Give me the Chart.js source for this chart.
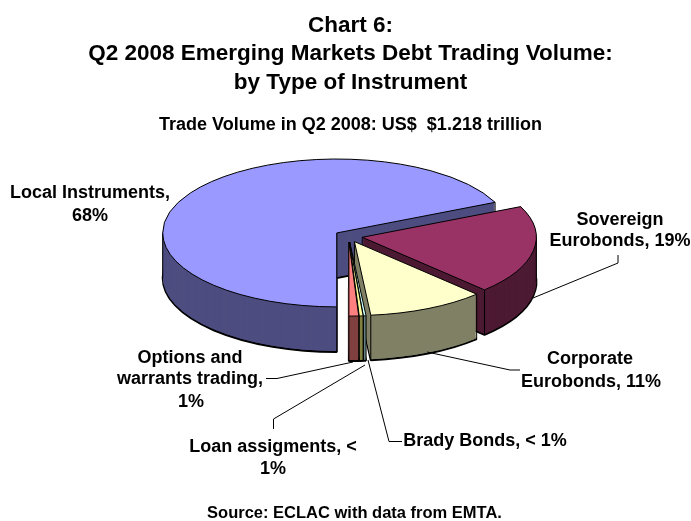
<!DOCTYPE html>
<html><head><meta charset="utf-8">
<style>html,body{margin:0;padding:0;background:#fff}canvas{display:block}</style>
<script src="https://cdn.jsdelivr.net/npm/chart.js@4"></script>
</head><body><canvas id="c" width="691" height="521"></canvas>
<script>
const categories = ["Local Instruments","Sovereign Eurobonds","Corporate Eurobonds","Brady Bonds","Loan assigments","Options and warrants trading"];
const shares = [68.2,19.4,10.9,0.25,0.35,0.9];
const topColors = ["#9999FF","#993366","#FFFFCC","#CCFFFF","#FFFF99","#FF8080"];
const sideColors = ["#4D4D80","#4D1A33","#808066","#668080","#808040","#804040"];
const titleLines = ["Chart 6:","Q2 2008 Emerging Markets Debt Trading Volume:","by Type of Instrument"];
const subtitleText = "Trade Volume in Q2 2008: US$  $1.218 trillion";
const sourceText = "Source: ECLAC with data from EMTA.";
const FONT = '"Liberation Sans", Arial, sans-serif';
const TILT = 0.425, DEPTH = 45, EXPLODE = 14, RADIUS = 174, SHIFT_X = -2;

const labels = [
  {t:"Local Instruments,",x:90,y:193.5},{t:"68%",x:90,y:216.5},
  {t:"Sovereign",x:620,y:220},{t:"Eurobonds, 19%",x:620,y:241},
  {t:"Corporate",x:590,y:359},{t:"Eurobonds, 11%",x:591,y:382},
  {t:"Options and",x:190,y:358},{t:"warrants trading,",x:190,y:379},{t:"1%",x:191,y:402},
  {t:"Loan assigments, <",x:273,y:447},{t:"1%",x:273,y:469},
  {t:"Brady Bonds, < 1%",x:485,y:441}
];
const leaders = [
  [[618,255],[618,263],[533,298]],
  [[520,370],[510,370],[427,352]],
  [[266,378.5],[277,378.5],[353,362]],
  [[273.5,429],[273.5,419],[365,365]],
  [[402,441.5],[389,441.5],[368,360]]
];

function uniformStroke(ctx,w,fn){
  const orig = ctx.stroke;
  ctx.stroke = function(){ctx.save();ctx.setTransform(1,0,0,1,0,0);ctx.lineWidth=w;orig.call(ctx);ctx.restore();};
  fn();
  delete ctx.stroke;
}
const pie3d = {
  id:'pie3d',
  beforeDatasetsDraw(chart){
    const ctx = chart.ctx, meta = chart.getDatasetMeta(0);
    const drawFlat = (el,d,fill,border)=>{
      const mid=(el.startAngle+el.endAngle)/2;
      const o=Object.create(el);
      o.options=Object.assign({},el.options,{backgroundColor:fill,borderColor:'#000',borderWidth:border?1:0});
      ctx.save();
      ctx.translate(SHIFT_X,el.y+d);ctx.scale(1,TILT);ctx.translate(0,-el.y);
      ctx.translate(Math.cos(mid)*EXPLODE,Math.sin(mid)*EXPLODE);
      o.draw(ctx);
      ctx.restore();
    };
    meta.data.forEach((el,i)=>{
      const mid=(el.startAngle+el.endAngle)/2;
      const cx=el.x+SHIFT_X+Math.cos(mid)*EXPLODE, cy=el.y+Math.sin(mid)*EXPLODE*TILT;
      uniformStroke(ctx,2,()=>drawFlat(el,DEPTH,sideColors[i],true));
      for(let d=DEPTH-1;d>0;d--) drawFlat(el,d,sideColors[i],false);
      const r=el.outerRadius, angs=[el.startAngle,el.endAngle];
      for(let n=-4;n<5;n++){const b=n*Math.PI; if(b>el.startAngle&&b<el.endAngle)angs.push(b);}
      ctx.save();ctx.strokeStyle='#000';ctx.lineWidth=1;ctx.beginPath();
      ctx.moveTo(cx,cy);ctx.lineTo(cx,cy+DEPTH);
      for(const a of angs){const x=cx+Math.cos(a)*r,y=cy+Math.sin(a)*r*TILT;ctx.moveTo(x,y);ctx.lineTo(x,y+DEPTH);}
      ctx.stroke();ctx.restore();
    });
    meta.data.forEach((el,i)=>{
      uniformStroke(ctx,1,()=>drawFlat(el,0,topColors[i],true));
    });
    return false;
  },
  afterDraw(chart){
    const ctx=chart.ctx;
    ctx.save();
    ctx.strokeStyle='#000';ctx.lineWidth=1;
    for(const l of leaders){ctx.beginPath();l.forEach((p,i)=>i?ctx.lineTo(p[0],p[1]):ctx.moveTo(p[0],p[1]));ctx.stroke();}
    ctx.fillStyle='#000';ctx.textAlign='center';ctx.textBaseline='middle';
    ctx.font='bold 18px '+FONT;
    for(const l of labels) ctx.fillText(l.t,l.x,l.y);
    ctx.font='bold 16.5px '+FONT;
    ctx.fillText(sourceText,354.5,513);
    ctx.restore();
  }
};
new Chart(document.getElementById('c'),{
  type:'pie',
  data:{labels:categories,datasets:[{data:shares,backgroundColor:topColors,borderColor:'#000',borderWidth:1}]},
  options:{
    responsive:false,animation:false,rotation:180,radius:RADIUS,
    layout:{padding:{top:12,left:10,right:0,bottom:183}},
    plugins:{
      legend:{display:false},tooltip:{enabled:false},
      title:{display:true,text:titleLines,color:'#000',font:{family:FONT,size:22.5,weight:'bold',lineHeight:1.25},padding:{top:0,bottom:20}},
      subtitle:{display:true,text:subtitleText,color:'#000',font:{family:FONT,size:18,weight:'bold',lineHeight:1},padding:{top:0,bottom:0}}
    }
  },
  plugins:[pie3d]
});
</script></body></html>
